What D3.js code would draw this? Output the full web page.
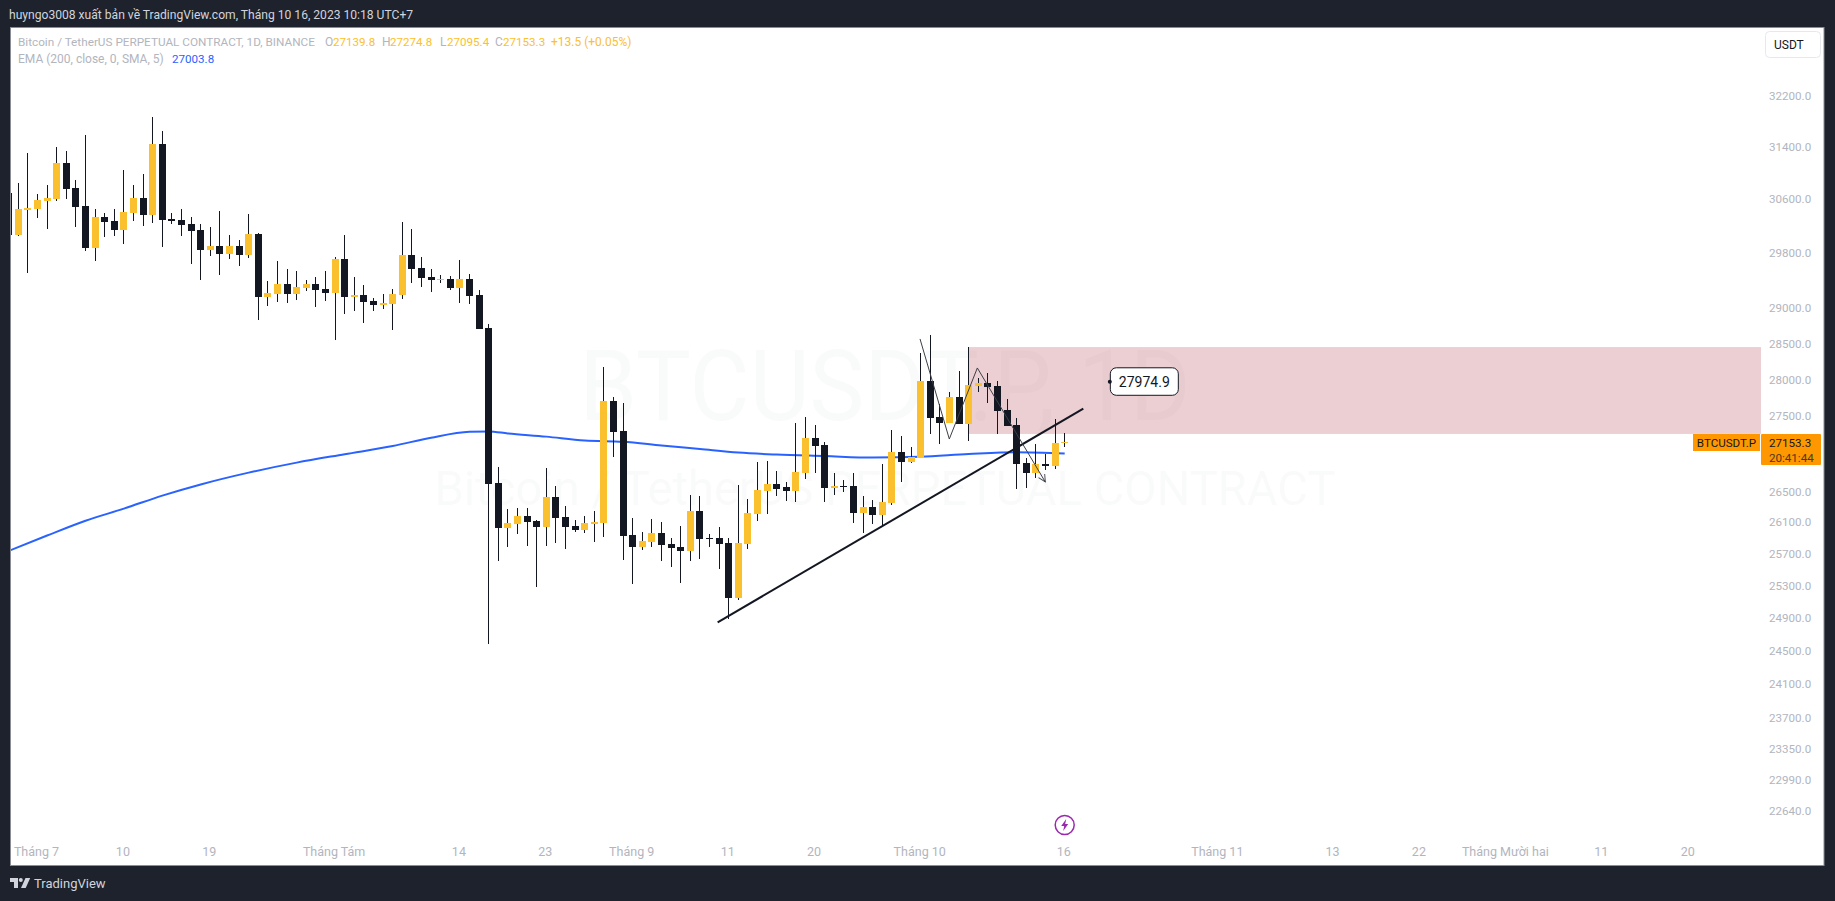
<!DOCTYPE html>
<html>
<head>
<meta charset="utf-8">
<style>
    html, body { margin: 0; padding: 0; background: #1e222d; overflow: hidden; }
    svg { display: block; }
    text { font-family: Roboto, sans-serif; }
    .price-axis text, .time-axis text { fill: #b2b5be; font-family: Roboto, sans-serif; }
    .price-axis text { font-size: 11.6px; }
    .time-axis text { font-size: 12.5px; }
    .price-axis path, .time-axis path { display: none; }
</style>
</head>
<body>
<div id="chart"></div>
<script src="https://d3js.org/d3.v7.min.js"></script>
<script>
    // one candle per day, first one is 28 June 2023
    const firstDay = Date.UTC(2023, 5, 28);

    const opens = [
        30695, 30072, 30444, 30459, 30578, 30608, 31157, 30776, 30504, 29879,
        30340, 30281, 30147, 30400, 30623, 30370, 31449, 30310, 30295, 30236,
        30147, 29849, 29908, 29791, 29908, 29776, 30087, 29167, 29210, 29355,
        29210, 29297, 29355, 29283, 29225, 29718, 29167, 29196, 29109, 29052,
        29066, 29196, 29776, 29588, 29457, 29413, 29428, 29297, 29428, 29196,
        28727, 26616, 26032, 26084, 26187, 26122, 26045, 26431, 26174, 26058,
        26007, 26084, 26097, 27710, 27306, 25943, 25788, 25853, 25968, 25827,
        25788, 25737, 26251, 25904, 25904, 25840, 25150, 25827, 26212, 26511,
        26603, 26563, 26511, 26747, 27212, 27117, 26550, 26580, 26576, 26225,
        26302, 26199, 26353, 27024, 26892, 26945, 27986, 27495, 27414, 27765,
        27400, 27918, 27959, 27918, 27589, 27387, 26879, 26747, 26866, 26839, 27139.8
    ];
    const highs = [
        30730, 30848, 31305, 30684, 30822, 31402, 31340, 30898, 31590, 30459,
        30400, 30459, 31050, 30822, 30989, 31871, 31652, 30400, 30459, 30340,
        30236, 30191, 30429, 30072, 29998, 30385, 30102, 29399, 29689, 29573,
        29544, 29413, 29457, 29544, 29747, 30072, 29457, 29341, 29152, 29210,
        29283, 30266, 30161, 29747, 29573, 29486, 29471, 29704, 29500, 29268,
        28783, 26826, 26276, 26289, 26289, 26135, 26813, 26576, 26315, 26135,
        26187, 26251, 28180, 27765, 27684, 26161, 25981, 26148, 26110, 25904,
        26058, 26458, 26445, 25955, 26045, 25904, 26590, 26405, 26892, 26905,
        26774, 26629, 27414, 27495, 27387, 27158, 26747, 26655, 26747, 26445,
        26392, 26866, 27320, 27239, 27090, 28374, 28627, 27670, 27834, 28125,
        28457, 28028, 28097, 27986, 27738, 27481, 26945, 27131, 26997, 27468, 27274.8
    ];
    const lows = [
        30050, 30062, 29519, 30325, 30161, 30578, 30608, 30191, 29834, 29689,
        30042, 30057, 29938, 30281, 30206, 30251, 29893, 30236, 30057, 29646,
        29413, 29762, 29486, 29718, 29617, 29733, 28840, 29038, 29095, 29081,
        29123, 29254, 29024, 29109, 28557, 28925, 28967, 28797, 28967, 28996,
        28698, 29138, 29370, 29312, 29239, 29370, 29268, 29081, 29066, 28712,
        24586, 25612, 25788, 25955, 25801, 25287, 25801, 25840, 25763, 25981,
        25968, 25853, 25917, 26958, 25625, 25324, 25750, 25788, 25612, 25537,
        25337, 25612, 25637, 25788, 25512, 24892, 25124, 25763, 26122, 26212,
        26445, 26379, 26366, 26668, 26747, 26366, 26458, 26497, 26097, 25968,
        26084, 26058, 26328, 26629, 26879, 26945, 27266, 27131, 27414, 27400,
        27171, 27834, 27684, 27266, 27374, 26537, 26550, 26682, 26787, 26800, 27095.4
    ];
    const closes = [
        30072, 30459, 30478, 30593, 30623, 31157, 30761, 30489, 29879, 30340,
        30266, 30147, 30414, 30623, 30370, 31449, 30295, 30281, 30221, 30132,
        29849, 29908, 29791, 29908, 29776, 30087, 29167, 29225, 29355, 29210,
        29312, 29355, 29268, 29225, 29718, 29167, 29196, 29095, 29052, 29081,
        29210, 29776, 29573, 29442, 29413, 29428, 29297, 29428, 29181, 28712,
        26603, 26032, 26097, 26187, 26110, 26045, 26431, 26161, 26045, 26007,
        26097, 26110, 27710, 27293, 25930, 25788, 25866, 25968, 25814, 25776,
        25737, 26251, 25891, 25891, 25827, 25150, 25840, 26225, 26524, 26603,
        26537, 26511, 26761, 27212, 27104, 26550, 26576, 26572, 26225, 26302,
        26199, 26366, 27024, 26892, 26958, 27986, 27481, 27414, 27765, 27400,
        27932, 27959, 27904, 27576, 27374, 26866, 26747, 26866, 26839, 27144, 27153.3
    ];

    // EMA 200 read at some of the days
    const emaDays = [0, 4, 8, 12, 16, 20, 25, 30, 35, 40, 44, 48, 50, 52, 56, 60, 64, 68, 72, 76, 80, 85, 90, 95, 100, 105, 110];
    const emaValues = [25740, 25936, 26126, 26282, 26451, 26597, 26752, 26884, 26995, 27104, 27216, 27295, 27300, 27273, 27230, 27177, 27162, 27111, 27064, 27017, 26991, 26971, 26951, 26962, 26997, 27020, 27003.8];

    const priceTicks = [32200, 31400, 30600, 29800, 29000, 28500, 28000, 27500, 26500, 26100, 25700, 25300, 24900, 24500, 24100, 23700, 23350, 22990, 22640];

    const timeTicks = ["2023-07-01", "2023-07-10", "2023-07-19", "2023-08-01", "2023-08-14", "2023-08-23", "2023-09-01", "2023-09-11", "2023-09-20", "2023-10-01", "2023-10-16", "2023-11-01", "2023-11-13", "2023-11-22", "2023-12-01", "2023-12-11", "2023-12-20"];
    const timeLabels = ["Tháng 7", "10", "19", "Tháng Tám", "14", "23", "Tháng 9", "11", "20", "Tháng 10", "16", "Tháng 11", "13", "22", "Tháng Mười hai", "11", "20"];

    // drawings on the chart, as [day, price]
    const zoneDay = 100;
    const zonePrices = [28457, 27266];
    const trendDays = [73.85, 111.94];
    const trendPrices = [24852, 27607];
    const pathDays = [94.93, 97.98, 100.9, 107.98];
    const pathPrices = [28571, 27198, 28166, 26629];
    const noteDay = 114.7;
    const notePrice = 27974.9;
    const lastClose = 27153.3;

    const width = 1835, height = 901;
    const plotLeft = 11, plotRight = 1761, plotTop = 28, plotBottom = 865;
    const upColor = "#fbc02d", downColor = "#131722", emaColor = "#2962ff", tagColor = "#ff9800";

    const dayDate = d => new Date(firstDay + d * 864e5);
    const candles = d3.range(opens.length).map(i => ({
        day: i, open: opens[i], high: highs[i], low: lows[i], close: closes[i]
    }));

    const x = d3.scaleUtc()
        .domain([dayDate(0), dayDate(175)])
        .range([8.7, 1688.7]);

    const y = d3.scaleLog()
        .domain([32200, 22640])
        .range([96, 811.7]);

    const svg = d3.select("#chart").append("svg")
        .attr("width", width)
        .attr("height", height);

    svg.append("rect")
        .attr("x", 10.5)
        .attr("y", 27.5)
        .attr("width", 1813.5)
        .attr("height", 838)
        .attr("fill", "#fff")
        .attr("stroke", "#8a8d96");

    svg.append("clipPath").attr("id", "plot-clip")
        .append("rect")
        .attr("x", plotLeft)
        .attr("y", plotTop)
        .attr("width", plotRight - plotLeft)
        .attr("height", plotBottom - plotTop);

    // watermark
    const mark = svg.append("g")
        .attr("fill", "#131722")
        .attr("fill-opacity", 0.022)
        .attr("text-anchor", "middle");
    mark.append("text")
        .attr("x", 885)
        .attr("y", 420)
        .attr("font-size", 98)
        .attr("textLength", 611)
        .attr("lengthAdjust", "spacingAndGlyphs")
        .text("BTCUSDT.P, 1D");
    mark.append("text")
        .attr("x", 885)
        .attr("y", 505)
        .attr("font-size", 49)
        .attr("textLength", 901)
        .attr("lengthAdjust", "spacingAndGlyphs")
        .text("Bitcoin / TetherUS PERPETUAL CONTRACT");

    const plot = svg.append("g").attr("clip-path", "url(#plot-clip)");

    // translucent so the watermark still shows through it
    plot.append("rect")
        .attr("x", x(dayDate(zoneDay)))
        .attr("y", y(zonePrices[0]))
        .attr("width", plotRight - x(dayDate(zoneDay)))
        .attr("height", y(zonePrices[1]) - y(zonePrices[0]))
        .attr("fill", "#b74955")
        .attr("fill-opacity", 0.264);

    const emaLine = d3.line()
        .curve(d3.curveMonotoneX)
        .x(d => x(dayDate(d[0])))
        .y(d => y(d[1]));

    const drawnLine = d3.line()
        .x(d => x(dayDate(d[0])))
        .y(d => y(d[1]));

    plot.append("path")
        .attr("d", emaLine(d3.zip(emaDays, emaValues)))
        .attr("fill", "none")
        .attr("stroke", emaColor)
        .attr("stroke-width", 2);

    const candle = plot.selectAll("g.candle")
        .data(candles)
        .enter().append("g")
        .attr("class", "candle");

    candle.append("rect")
        .attr("x", d => Math.floor(x(dayDate(d.day))))
        .attr("y", d => Math.round(y(d.high)))
        .attr("width", 1)
        .attr("height", d => Math.round(y(d.low)) - Math.round(y(d.high)))
        .attr("fill", downColor);

    candle.append("rect")
        .attr("x", d => Math.floor(x(dayDate(d.day))) - 3)
        .attr("y", d => Math.round(y(Math.max(d.open, d.close))))
        .attr("width", 7)
        .attr("height", d => Math.max(1, Math.round(y(Math.min(d.open, d.close))) - Math.round(y(Math.max(d.open, d.close)))))
        .attr("fill", d => d.close >= d.open ? upColor : downColor);

    plot.append("path")
        .attr("d", drawnLine(d3.zip(trendDays, trendPrices)))
        .attr("fill", "none")
        .attr("stroke", downColor)
        .attr("stroke-width", 2);

    svg.append("marker")
        .attr("id", "arrow")
        .attr("viewBox", "0 0 10 10")
        .attr("refX", 9)
        .attr("refY", 5)
        .attr("markerWidth", 9)
        .attr("markerHeight", 9)
        .attr("markerUnits", "userSpaceOnUse")
        .attr("orient", "auto")
        .append("path")
        .attr("d", "M1 1L9 5L1 9")
        .attr("fill", "none")
        .attr("stroke", "#3c3f48")
        .attr("stroke-width", 1);

    plot.append("path")
        .attr("d", drawnLine(d3.zip(pathDays, pathPrices)))
        .attr("fill", "none")
        .attr("stroke", "#3c3f48")
        .attr("stroke-width", 1)
        .attr("marker-end", "url(#arrow)");

    // price note
    const noteX = x(dayDate(noteDay)), noteY = y(notePrice);
    const note = svg.append("g");
    note.append("rect")
        .attr("x", noteX + 0.5)
        .attr("y", noteY - 14)
        .attr("width", 68)
        .attr("height", 27.5)
        .attr("rx", 6)
        .attr("fill", "#fff")
        .attr("stroke", "#131722");
    note.append("circle")
        .attr("cx", noteX)
        .attr("cy", noteY)
        .attr("r", 2)
        .attr("fill", "#131722");
    note.append("text")
        .attr("x", noteX + 34.5)
        .attr("y", noteY + 5)
        .attr("text-anchor", "middle")
        .attr("font-size", 14)
        .attr("fill", "#131722")
        .text(d3.format(".1f")(notePrice));

    // axes
    svg.append("g")
        .attr("class", "price-axis")
        .attr("transform", "translate(1769,-0.5)")
        .call(d3.axisRight(y)
            .tickValues(priceTicks)
            .tickSize(0)
            .tickPadding(0)
            .tickFormat(d3.format(".1f")));

    svg.append("g")
        .attr("class", "time-axis")
        .attr("transform", "translate(-1.5,844)")
        .call(d3.axisBottom(x)
            .tickValues(timeTicks.map(d => new Date(d)))
            .tickSize(0)
            .tickPadding(3)
            .tickFormat((d, i) => timeLabels[i]));

    // last price tags
    svg.append("rect")
        .attr("x", 1693)
        .attr("y", 434)
        .attr("width", 67)
        .attr("height", 17)
        .attr("fill", tagColor);
    svg.append("text")
        .attr("x", 1726.5)
        .attr("y", 447)
        .attr("text-anchor", "middle")
        .attr("font-size", 11.6)
        .attr("fill", "#131722")
        .text("BTCUSDT.P");
    svg.append("rect")
        .attr("x", 1761)
        .attr("y", 434)
        .attr("width", 60)
        .attr("height", 31)
        .attr("rx", 1)
        .attr("fill", tagColor);
    svg.append("text")
        .attr("x", 1769)
        .attr("y", 447)
        .attr("font-size", 11.6)
        .attr("fill", "#131722")
        .text(d3.format(".1f")(lastClose));
    svg.append("text")
        .attr("x", 1769)
        .attr("y", 462)
        .attr("font-size", 11.6)
        .attr("fill", "#4a3a1c")
        .text("20:41:44");

    // currency button
    svg.append("rect")
        .attr("x", 1765.5)
        .attr("y", 31.5)
        .attr("width", 55)
        .attr("height", 26)
        .attr("rx", 4)
        .attr("fill", "#fff")
        .attr("stroke", "#e6e8f0");
    svg.append("text")
        .attr("x", 1774)
        .attr("y", 49)
        .attr("font-size", 12)
        .attr("fill", "#131722")
        .text("USDT");

    // legend
    const legendItems = [
        [18, 46, "#b2b5be", "Bitcoin / TetherUS PERPETUAL CONTRACT, 1D, BINANCE", 11.75],
        [325, 46, "#b2b5be", "O", 12], [333, 46, upColor, "27139.8", 11.6],
        [382, 46, "#b2b5be", "H", 12], [390, 46, upColor, "27274.8", 11.6],
        [440, 46, "#b2b5be", "L", 12], [447, 46, upColor, "27095.4", 11.6],
        [495, 46, "#b2b5be", "C", 12], [503, 46, upColor, "27153.3", 11.6],
        [551, 46, upColor, "+13.5 (+0.05%)", 12],
        [18, 63, "#b2b5be", "EMA (200, close, 0, SMA, 5)", 12],
        [172, 63, emaColor, "27003.8", 11.6]
    ];
    svg.selectAll("text.legend")
        .data(legendItems)
        .enter().append("text")
        .attr("class", "legend")
        .attr("x", d => d[0])
        .attr("y", d => d[1])
        .attr("font-size", d => d[4])
        .attr("fill", d => d[2])
        .text(d => d[3]);

    // header and footer
    svg.append("text")
        .attr("x", 9)
        .attr("y", 19)
        .attr("font-size", 12.1)
        .attr("fill", "#d1d4dc")
        .text("huyngo3008 xuất bản về TradingView.com, Tháng 10 16, 2023 10:18 UTC+7");

    const logo = svg.append("g").attr("fill", "#d1d4dc");
    logo.append("path").attr("d", "M10 878h8v10h-4v-6h-4z");
    logo.append("circle").attr("cx", 20.8).attr("cy", 880).attr("r", 2);
    logo.append("path").attr("d", "M25.5 878h4.7l-4.5 10h-4.7z");
    svg.append("text")
        .attr("x", 34)
        .attr("y", 888)
        .attr("font-size", 13)
        .attr("fill", "#d1d4dc")
        .text("TradingView");

    // lightning badge under the last candle
    const badge = svg.append("g")
        .attr("transform", `translate(${x(dayDate(110))},825)`);
    badge.append("circle")
        .attr("r", 9.5)
        .attr("fill", "#fff")
        .attr("stroke", "#9c27b0")
        .attr("stroke-width", 1.5);
    badge.append("path")
        .attr("d", "M1.5 -6L-3.5 1H-0.5L-1.5 6L3.5 -1H0.5Z")
        .attr("fill", "#9c27b0");
</script>
</body>
</html>
